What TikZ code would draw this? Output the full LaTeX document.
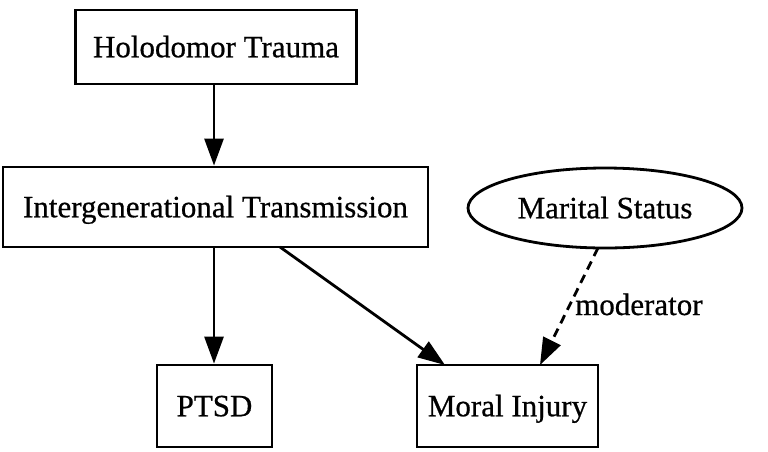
\documentclass[tikz,border=0pt]{standalone}
\usepackage{fontspec}
\setmainfont{Liberation Serif}[FakeBold=0.6,AutoFakeBold=0.6]
\usetikzlibrary{arrows.meta,shapes.geometric}
\begin{document}
\begin{tikzpicture}[x=1pt,y=-1pt,
  txt/.style={font=\fontsize{31}{34}\selectfont\bfseries},
  box/.style={draw,line width=2.8pt,rectangle,inner sep=0pt,txt,text height=20.5pt,text depth=0pt},
  oval/.style={draw,line width=2.8pt,ellipse,inner sep=0pt,txt,text height=20.5pt,text depth=0pt},
  link/.style={line width=2.8pt,-{Triangle[length=27pt,width=19pt]}}]
\useasboundingbox (0,0) rectangle (768,451);
\node[box,minimum width=281pt,minimum height=74pt] (holo) at (216,47) {Holodomor Trauma};
\node[box,minimum width=425pt,minimum height=80pt] (inter) at (215.5,207) {Intergenerational Transmission};
\node[oval,minimum width=274pt,minimum height=80pt] (marital) at (605,208) {Marital Status};
\node[box,minimum width=115pt,minimum height=82pt] (ptsd) at (214.5,406) {PTSD};
\node[box,minimum width=181pt,minimum height=82pt] (moral) at (507.5,406) {Moral Injury};
\draw[link] (holo.south -| 214,0) -- (inter.north -| 214,0);
\draw[link] (inter.south -| 214,0) -- (ptsd.north -| 214,0);
\draw[link] (280,247) -- (445,365);
\draw[link,dashed,dash pattern=on 9pt off 6pt] (598,248) -- (540,365);
\node[txt,anchor=base west,inner sep=0pt] (mod) at (575,315) {moderator};
\end{tikzpicture}
\end{document}
